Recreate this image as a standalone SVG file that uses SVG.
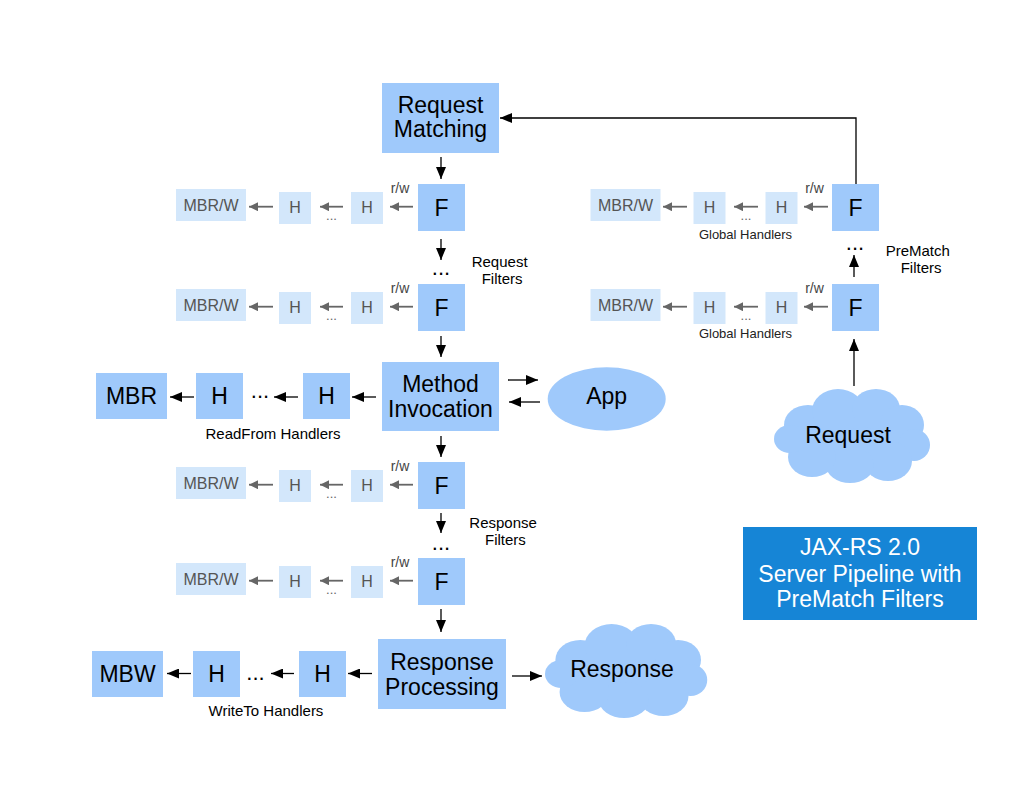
<svg xmlns="http://www.w3.org/2000/svg" xmlns:xlink="http://www.w3.org/1999/xlink" width="1034" height="799" viewBox="0 0 1034 799">
<style>
text{font-family:"Liberation Sans",Arial,sans-serif;}
.big{font-size:23px;fill:#000;text-anchor:middle;}
.mid{font-size:15px;fill:#000;}
.sm{font-size:13px;fill:#222;text-anchor:middle;}
.lt{font-size:16px;fill:#555;text-anchor:middle;}
.rw{font-size:14px;fill:#444;}
.dk{fill:#9fc9fb;}
.lb{fill:#d3e7fb;}
.bl{stroke:#000;stroke-width:1.3;fill:none;marker-end:url(#ab);}
.gr{stroke:#666;stroke-width:1.8;fill:none;marker-end:url(#ag);}
.dots{font-size:22px;fill:#000;text-anchor:middle;}
.gdots{font-size:13px;fill:#666;text-anchor:middle;}
.title{font-size:23px;fill:#fff;text-anchor:middle;}
</style>
<defs>
<marker id="ab" markerUnits="userSpaceOnUse" markerWidth="12" markerHeight="10" refX="12" refY="5" orient="auto"><path d="M0,0 L12,5 L0,10 z" fill="#000"/></marker>
<marker id="ag" markerUnits="userSpaceOnUse" markerWidth="9" markerHeight="9" refX="9" refY="4.5" orient="auto"><path d="M0,0 L9,4.5 L0,9 z" fill="#666"/></marker>
<g id="cloud" fill="#9fc9fb">
<ellipse cx="78" cy="48" rx="66" ry="36"/>
<ellipse cx="34" cy="36" rx="24" ry="20"/>
<ellipse cx="64" cy="22" rx="26" ry="22"/>
<ellipse cx="102" cy="20" rx="24" ry="20"/>
<ellipse cx="128" cy="36" rx="22" ry="20"/>
<ellipse cx="140" cy="56" rx="16" ry="16"/>
<ellipse cx="114" cy="72" rx="24" ry="20"/>
<ellipse cx="76" cy="76" rx="24" ry="18"/>
<ellipse cx="38" cy="68" rx="24" ry="20"/>
<ellipse cx="16" cy="50" rx="16" ry="14"/>
</g>
<g id="hrow">
<rect class="lb" x="0" y="5" width="70" height="32"/>
<text class="lt" x="35" y="27">MBR/W</text>
<rect class="lb" x="103" y="8" width="32" height="32"/>
<text class="lt" x="119" y="29">H</text>
<rect class="lb" x="175" y="8" width="32" height="32"/>
<text class="lt" x="191" y="29">H</text>
<text class="rw" x="214.7" y="9">r/w</text>
<text class="gdots" x="155.5" y="36">...</text>
</g>
</defs>

<g id="connectors">
<polyline class="bl" points="856,184 856,118 500,118"/>
<line class="bl" x1="441" y1="157" x2="441" y2="179"/>
<line class="bl" x1="441" y1="239" x2="441" y2="260"/>
<line class="bl" x1="441" y1="336" x2="441" y2="357"/>
<line class="bl" x1="441" y1="436" x2="441" y2="457"/>
<line class="bl" x1="441" y1="513" x2="441" y2="533"/>
<line class="bl" x1="441" y1="609" x2="441" y2="632"/>
<line class="bl" x1="854" y1="386" x2="854" y2="339"/>
<line class="bl" x1="854" y1="277" x2="854" y2="255"/>
<line class="bl" x1="508" y1="380" x2="538" y2="380"/>
<line class="bl" x1="540" y1="402" x2="509" y2="402"/>
<line class="bl" x1="376" y1="397" x2="352" y2="397"/>
<line class="bl" x1="298" y1="397" x2="274" y2="397"/>
<line class="bl" x1="194" y1="397" x2="170" y2="397"/>
<line class="bl" x1="372" y1="673.5" x2="348" y2="673.5"/>
<line class="bl" x1="294" y1="673.5" x2="271" y2="673.5"/>
<line class="bl" x1="191" y1="673.5" x2="167" y2="673.5"/>
<line class="bl" x1="512" y1="676" x2="542" y2="676"/>
<line class="gr" x1="413" y1="206.7" x2="390" y2="206.7"/>
<line class="gr" x1="343" y1="206.7" x2="320" y2="206.7"/>
<line class="gr" x1="273" y1="206.7" x2="249" y2="206.7"/>
<line class="gr" x1="413" y1="306.7" x2="390" y2="306.7"/>
<line class="gr" x1="343" y1="306.7" x2="320" y2="306.7"/>
<line class="gr" x1="273" y1="306.7" x2="249" y2="306.7"/>
<line class="gr" x1="413" y1="484.7" x2="390" y2="484.7"/>
<line class="gr" x1="343" y1="484.7" x2="320" y2="484.7"/>
<line class="gr" x1="273" y1="484.7" x2="249" y2="484.7"/>
<line class="gr" x1="413" y1="580.7" x2="390" y2="580.7"/>
<line class="gr" x1="343" y1="580.7" x2="320" y2="580.7"/>
<line class="gr" x1="273" y1="580.7" x2="249" y2="580.7"/>
<line class="gr" x1="828" y1="206.7" x2="804" y2="206.7"/>
<line class="gr" x1="758" y1="206.7" x2="734" y2="206.7"/>
<line class="gr" x1="687" y1="206.7" x2="663" y2="206.7"/>
<line class="gr" x1="828" y1="306.7" x2="804" y2="306.7"/>
<line class="gr" x1="758" y1="306.7" x2="734" y2="306.7"/>
<line class="gr" x1="687" y1="306.7" x2="663" y2="306.7"/>
</g>

<g id="request-matching">
<rect class="dk" x="382" y="83" width="117" height="70"/>
<text class="big" x="440.5" y="113">Request</text>
<text class="big" x="440.5" y="137">Matching</text>
</g>

<g id="req-filter-1"><use xlink:href="#hrow" x="176" y="184"/><rect class="dk" x="418" y="184" width="47" height="47"/><text class="big" x="441.5" y="216">F</text></g>
<g id="req-filter-2"><use xlink:href="#hrow" x="176" y="284"/><rect class="dk" x="418" y="284" width="47" height="47"/><text class="big" x="441.5" y="316">F</text></g>
<g id="req-filters-label">
<text class="dots" x="441" y="275">...</text>
<text class="mid" x="471.7" y="266.7">Request</text>
<text class="mid" x="481.7" y="284">Filters</text>
</g>

<g id="prematch-filter-1"><use xlink:href="#hrow" x="590.5" y="184"/><rect class="dk" x="832" y="184" width="47" height="47"/><text class="big" x="855.5" y="216">F</text><text class="sm" x="745.5" y="239.3">Global Handlers</text></g>
<g id="prematch-filter-2"><use xlink:href="#hrow" x="590.5" y="284"/><rect class="dk" x="832" y="284" width="47" height="47"/><text class="big" x="855.5" y="316">F</text><text class="sm" x="745.5" y="338.3">Global Handlers</text></g>
<g id="prematch-label">
<text class="dots" x="855" y="250">...</text>
<text class="mid" x="885.7" y="256">PreMatch</text>
<text class="mid" x="900.7" y="273.3">Filters</text>
</g>

<g id="method-invocation">
<rect class="dk" x="382" y="362" width="117" height="69"/>
<text class="big" x="440.5" y="391.7">Method</text>
<text class="big" x="440.5" y="417.3">Invocation</text>
</g>
<g id="app">
<ellipse class="dk" cx="606.7" cy="399" rx="59" ry="31.7"/>
<text class="big" x="606.7" y="404.3">App</text>
</g>

<g id="readfrom-handlers">
<rect class="dk" x="96" y="373" width="71" height="46"/><text class="big" x="131.5" y="404">MBR</text>
<rect class="dk" x="196" y="373" width="47" height="46"/><text class="big" x="219.5" y="404">H</text>
<rect class="dk" x="303" y="373" width="47" height="46"/><text class="big" x="326.5" y="404">H</text>
<text class="dots" x="260" y="398">...</text>
<text class="mid" x="273" y="439.3" text-anchor="middle">ReadFrom Handlers</text>
</g>

<g id="resp-filter-1"><use xlink:href="#hrow" x="176" y="462"/><rect class="dk" x="418" y="462" width="47" height="47"/><text class="big" x="441.5" y="494">F</text></g>
<g id="resp-filter-2"><use xlink:href="#hrow" x="176" y="558"/><rect class="dk" x="418" y="558" width="47" height="47"/><text class="big" x="441.5" y="590">F</text></g>
<g id="resp-filters-label">
<text class="dots" x="441" y="550">...</text>
<text class="mid" x="469.3" y="528.3">Response</text>
<text class="mid" x="485" y="545">Filters</text>
</g>

<g id="response-processing">
<rect class="dk" x="378" y="639" width="128" height="70"/>
<text class="big" x="442" y="670">Response</text>
<text class="big" x="442" y="695">Processing</text>
</g>

<g id="writeto-handlers">
<rect class="dk" x="92" y="651" width="71" height="46"/><text class="big" x="127.5" y="682">MBW</text>
<rect class="dk" x="193" y="651" width="47" height="46"/><text class="big" x="216.5" y="682">H</text>
<rect class="dk" x="299" y="651" width="47" height="46"/><text class="big" x="322.5" y="682">H</text>
<text class="dots" x="255.5" y="680">...</text>
<text class="mid" x="266" y="716" text-anchor="middle">WriteTo Handlers</text>
</g>

<g id="response-cloud">
<use xlink:href="#cloud" transform="translate(545,624) scale(1.04,1)"/>
<text class="big" x="622" y="677.3">Response</text>
</g>

<g id="request-cloud">
<use xlink:href="#cloud" transform="translate(774,389)"/>
<text class="big" x="848" y="442.5">Request</text>
</g>

<g id="title">
<rect x="743" y="527" width="234" height="93" fill="#1685d6"/>
<text class="title" x="860" y="555">JAX-RS 2.0</text>
<text class="title" x="860" y="581.7">Server Pipeline with</text>
<text class="title" x="860" y="606.7">PreMatch Filters</text>
</g>
</svg>
